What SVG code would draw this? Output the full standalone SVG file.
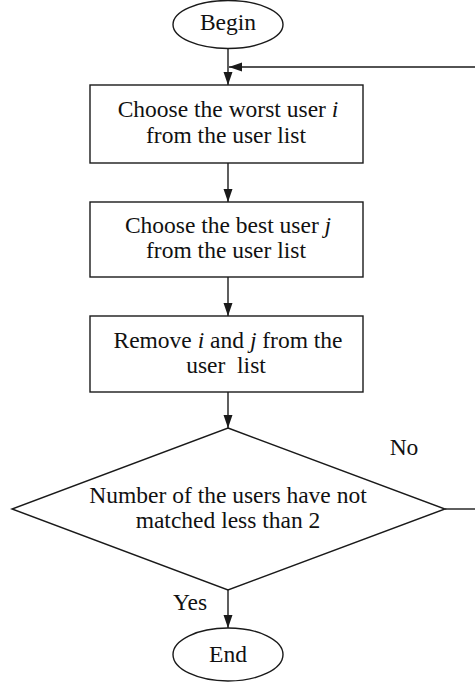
<svg xmlns="http://www.w3.org/2000/svg" width="475" height="686" viewBox="0 0 475 686">
<style>
.shape{fill:#fff;stroke:#1a1a1a;stroke-width:1.4}
.line{fill:none;stroke:#1a1a1a;stroke-width:1.4}
text{font-family:"Liberation Serif","Times New Roman",serif;font-size:23.5px;fill:#111;text-anchor:middle}
.it{font-style:italic}
</style>
<defs>
<marker id="arr" markerUnits="userSpaceOnUse" markerWidth="14" markerHeight="10" refX="13" refY="5" orient="auto">
<path d="M0,0.5 L13,5 L0,9.5 z" fill="#1a1a1a"/>
</marker>
</defs>
<g id="connectors">
<line class="line" x1="228" y1="48.5" x2="228" y2="85" marker-end="url(#arr)"/>
<polyline class="line" points="475,67 229,67" marker-end="url(#arr)"/>
<line class="line" x1="228" y1="163" x2="228" y2="202" marker-end="url(#arr)"/>
<line class="line" x1="228" y1="277" x2="228" y2="316" marker-end="url(#arr)"/>
<line class="line" x1="228" y1="392" x2="228" y2="428" marker-end="url(#arr)"/>
<line class="line" x1="445" y1="509" x2="475" y2="509"/>
<line class="line" x1="228" y1="590" x2="228" y2="628" marker-end="url(#arr)"/>
<text x="404" y="455">No</text>
<text x="190" y="610">Yes</text>
</g>
<g id="begin">
<ellipse class="shape" cx="228" cy="24.5" rx="55" ry="24"/>
<text x="228" y="30">Begin</text>
</g>
<g id="box1">
<rect class="shape" x="90" y="85" width="273" height="78"/>
<text x="228" y="117">Choose the worst user <tspan class="it">i</tspan></text>
<text x="226" y="143">from the user list</text>
</g>
<g id="box2">
<rect class="shape" x="90" y="202" width="273" height="75"/>
<text x="228" y="233">Choose the best user <tspan class="it">j</tspan></text>
<text x="226" y="258">from the user list</text>
</g>
<g id="box3">
<rect class="shape" x="90" y="316" width="273" height="76"/>
<text x="228" y="348">Remove <tspan class="it">i</tspan> and <tspan class="it">j</tspan> from the</text>
<text x="226" y="373" xml:space="preserve">user  list</text>
</g>
<g id="decision">
<polygon class="shape" points="228,428 445,509 228,590 12,509"/>
<text x="228" y="503">Number of the users have not</text>
<text x="228" y="528">matched less than 2</text>
</g>
<g id="end">
<ellipse class="shape" cx="228" cy="654.5" rx="55" ry="26.5"/>
<text x="228" y="662">End</text>
</g>
</svg>
